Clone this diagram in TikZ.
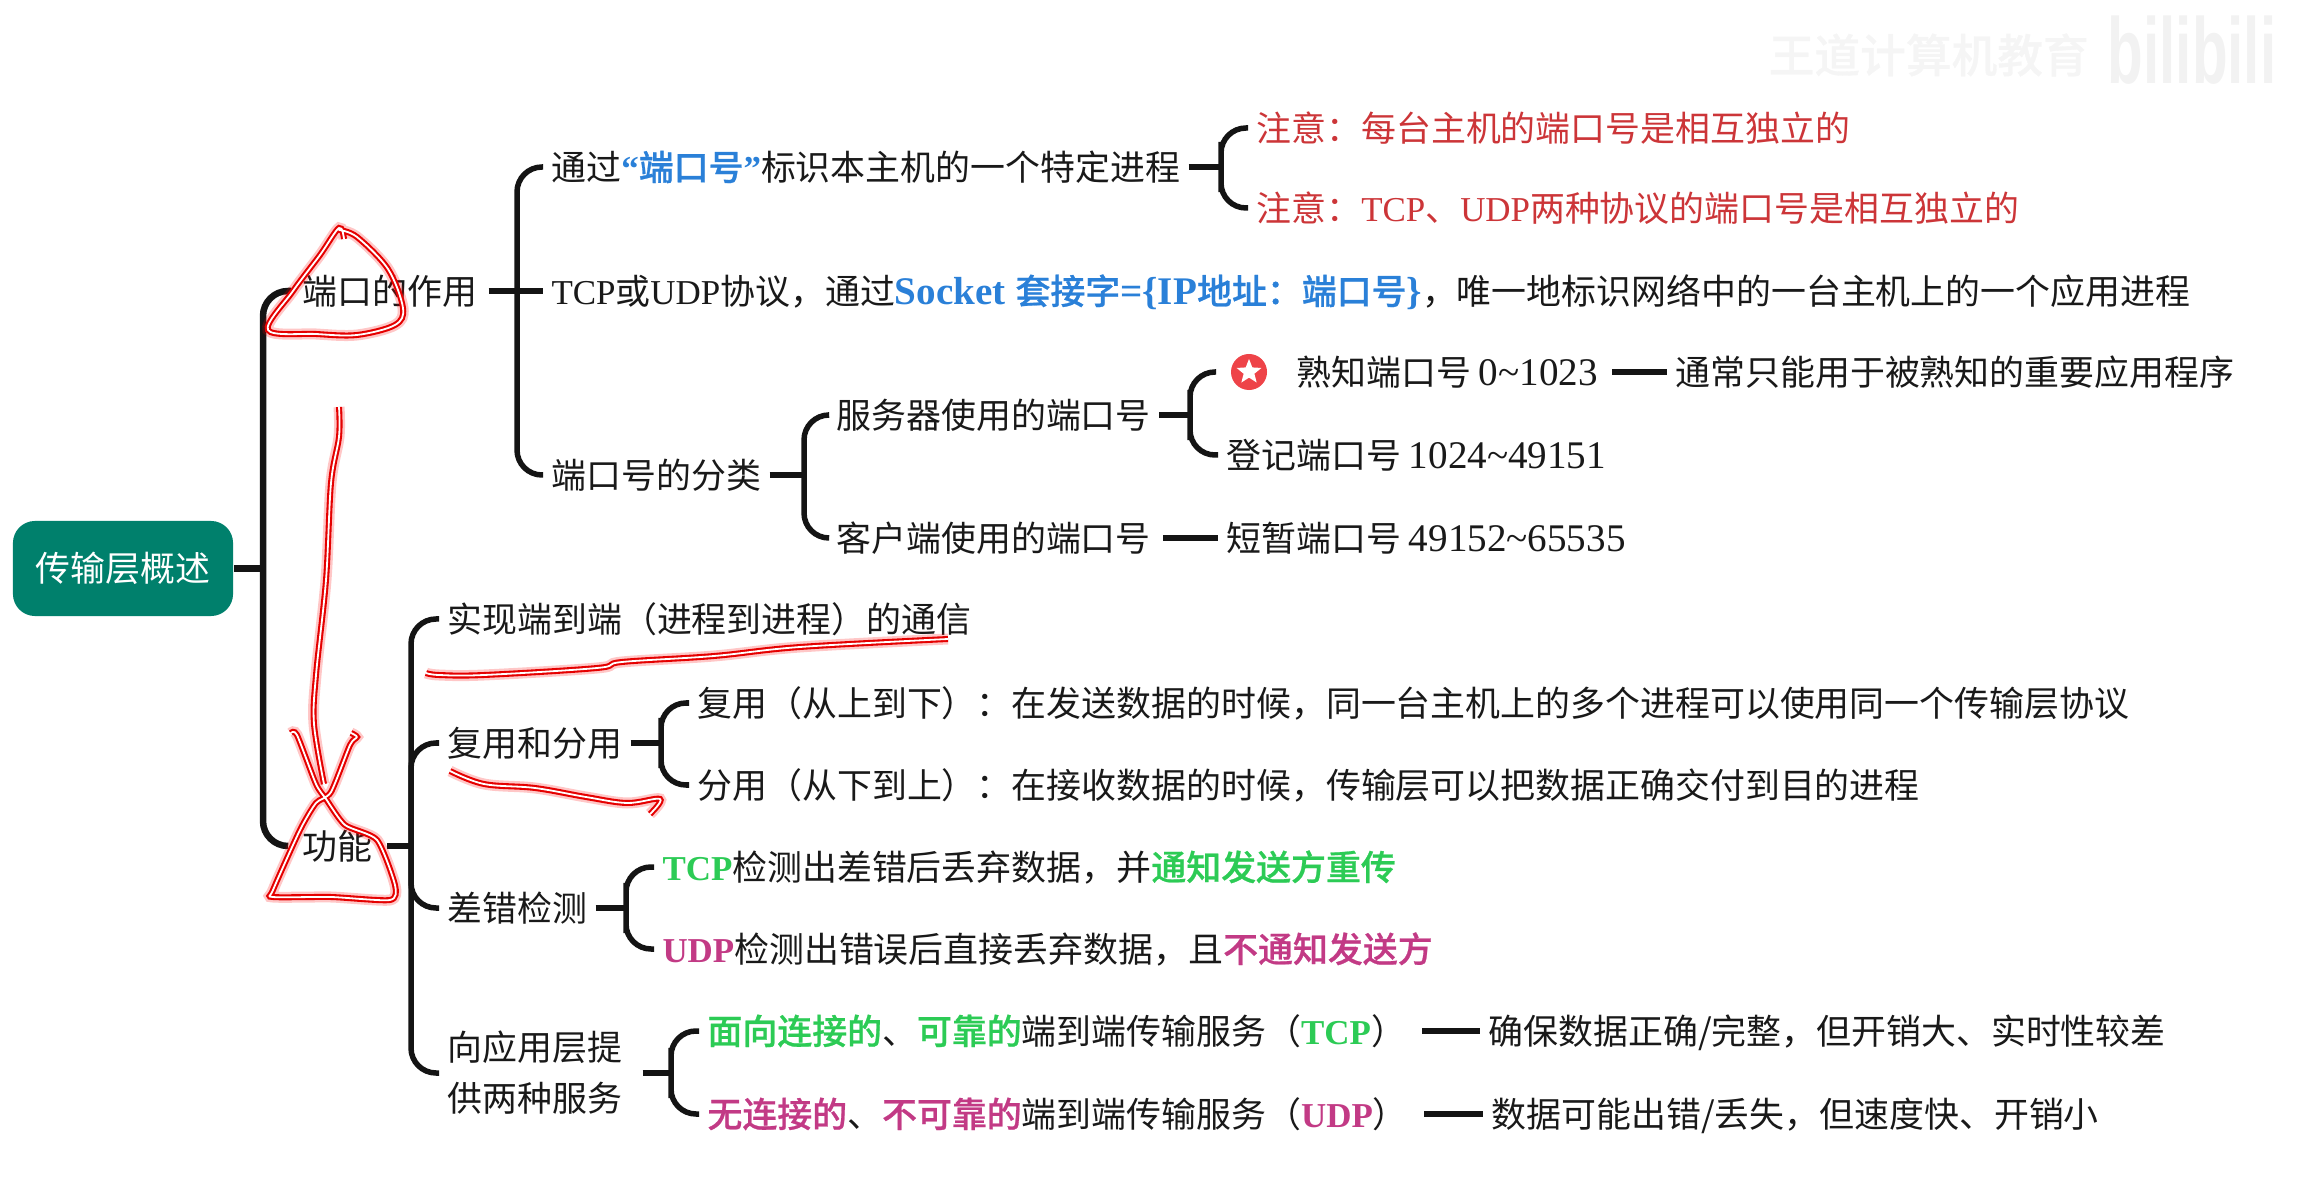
\documentclass[tikz,border=0pt]{standalone}
\usepackage{fontspec}
\setmainfont{Noto Sans CJK SC}[BoldFont={Noto Sans CJK SC Medium},BoldFeatures={FakeBold=0.7}]
\newfontfamily\latfont{Liberation Serif}
\newfontfamily\widefont{Liberation Serif}[Scale=1.12]
\newfontfamily\markfont{Liberation Sans}
\usetikzlibrary{shapes.geometric}
\definecolor{rootgreen}{HTML}{00806C}
\definecolor{notered}{HTML}{CC3538}
\definecolor{keyblue}{HTML}{2A80D8}
\definecolor{tcpgreen}{HTML}{2CCB55}
\definecolor{udppink}{HTML}{C23A85}
\definecolor{badgered}{HTML}{EE4348}
\definecolor{linkblack}{HTML}{141414}
\newcommand{\lat}[1]{{\latfont #1}}
\newcommand{\nums}[1]{{\widefont #1}}
\newcommand{\hl}[2]{\textcolor{#1}{\bfseries #2}}
\newcommand{\hllat}[2]{\textcolor{#1}{\latfont\bfseries #2}}
\newcommand{\hlwide}[2]{\textcolor{#1}{\widefont\bfseries #2}}
\tikzset{
    leaf/.style={anchor=west, inner sep=0pt, outer sep=.85mm, text height=8.7pt, text depth=1.2pt,
        font=\fontsize{9.93pt}{14.5pt}\selectfont, text=black!90},
    link/.style={draw=linkblack, line width=.55mm, rounded corners=.25cm},
    stem/.style={draw=linkblack, line width=.65mm},
    mainlink/.style={draw=linkblack, line width=.65mm, rounded corners=.25cm},
    ink/.style={preaction={draw=red, opacity=.22, line width=1.1mm},
        preaction={draw=red!90!black, line width=.6mm},
        draw=white, line width=.18mm, line cap=round, line join=round},
}
\begin{document}
\begin{tikzpicture}[x=.01cm, y=-.01cm]
\useasboundingbox (0,0) rectangle (2304,1189);
% watermark
\node[anchor=west, inner sep=0pt, text=black!4] (wmark) at (1768,55)
    {\fontsize{13pt}{13pt}\selectfont\bfseries 王道计算机教育};
\node[anchor=west, inner sep=0pt, text=black!5] (wbili) at (2107,50)
    {\scalebox{1}[1.6]{\fontsize{16.6pt}{18pt}\markfont\bfseries bilibili}};
% root
\node[fill=rootgreen, text=white, rounded corners=.22cm, minimum width=2.2cm, minimum height=.95cm,
    inner sep=0pt, font=\fontsize{9.93pt}{14pt}\selectfont] (root) at (123,568.5) {传输层概述};
\node[leaf, outer sep=1.15mm] (role) at (291,291) {端口的作用};
\node[leaf, outer sep=1.45mm] (func) at (288,846) {功能};
\coordinate (mainsp) at (263,568.5);
\draw[stem] (root.east) -- (mainsp);
\draw[mainlink] (role.west) -| (mainsp) |- (func.west);
% port branch
\node[leaf] (a1) at (543,167) {通过\hllat{keyblue}{“}\hl{keyblue}{端口号}\hllat{keyblue}{”}标识本主机的一个特定进程};
\node[leaf] (a2) at (543,291) {\lat{TCP}或\lat{UDP}协议，通过\hlwide{keyblue}{Socket }\hl{keyblue}{套接字}\hlwide{keyblue}{=\{IP}\hl{keyblue}{地址：端口号}\hlwide{keyblue}{\}}，唯一地标识网络中的一台主机上的一个应用进程};
\node[leaf] (a3) at (543,475) {端口号的分类};
\coordinate (spa) at (517,291);
\draw[stem] (role.east) -- (a2.west);
\draw[link] (a1.west) -| (spa) |- (a3.west);
% notes
\node[leaf, text=notered] (b1) at (1248,128) {注意：每台主机的端口号是相互独立的};
\node[leaf, text=notered] (b2) at (1248,208) {注意：\lat{TCP}、\lat{UDP}两种协议的端口号是相互独立的};
\coordinate (spb) at (1221,167);
\draw[stem] (a1.east) -- (spb);
\draw[link] (b1.west) -| (spb) |- (b2.west);
% port classes
\node[leaf] (c1) at (828,415) {服务器使用的端口号};
\node[leaf] (c2) at (828,538) {客户端使用的端口号};
\coordinate (spc) at (804,475);
\draw[stem] (a3.east) -- (spc);
\draw[link] (c1.west) -| (spc) |- (c2.west);
\node[circle, fill=badgered, inner sep=0pt, minimum size=.36cm, outer sep=1.5mm] (badge) at (1249,372) {};
\node[star, star points=5, star point ratio=2.3, fill=white, inner sep=0pt, minimum size=.26cm] (badgestar) at (badge) {};
\node[leaf] (d1) at (1288,372) {熟知端口号 \nums{0\textasciitilde 1023}};
\node[leaf] (d2) at (1218,455) {登记端口号 \nums{1024\textasciitilde 49151}};
\node[leaf] (d3) at (1218,538) {短暂端口号 \nums{49152\textasciitilde 65535}};
\node[leaf] (e1) at (1667,372) {通常只能用于被熟知的重要应用程序};
\coordinate (spd) at (1190,415);
\draw[stem] (c1.east) -- (spd);
\draw[link] (badge.west) -| (spd) |- (d2.west);
\draw[stem, shorten <=.4mm] (c2.east) -- (d3.west);
\draw[stem, shorten <=.6mm] (d1.east) -- (e1.west);
% function branch
\node[leaf] (f1) at (439,619) {实现端到端（进程到进程）的通信};
\node[leaf] (f2) at (439,743) {复用和分用};
\node[leaf] (f3) at (439,908) {差错检测};
\node[leaf, align=left, text height=23.2pt] (f4) at (439,1073) {向应用层提\\供两种服务};
\coordinate (spf) at (411,846);
\draw[stem] (func.east) -- (spf);
\draw[link] (f1.west) -| (spf) |- (f4.west);
\draw[link] (f2.west) -| (spf);
\draw[link] (f3.west) -| (spf);
% multiplexing
\node[leaf] (g1) at (689,703) {复用（从上到下）：在发送数据的时候，同一台主机上的多个进程可以使用同一个传输层协议};
\node[leaf] (g2) at (689,785) {分用（从下到上）：在接收数据的时候，传输层可以把数据正确交付到目的进程};
\coordinate (spg) at (661,743);
\draw[stem] (f2.east) -- (spg);
\draw[link] (g1.west) -| (spg) |- (g2.west);
% error check
\node[leaf] (h1) at (654,867) {\hllat{tcpgreen}{TCP}检测出差错后丢弃数据，并\hl{tcpgreen}{通知发送方重传}};
\node[leaf] (h2) at (654,949) {\hllat{udppink}{UDP}检测出错误后直接丢弃数据，且\hl{udppink}{不通知发送方}};
\coordinate (sph) at (626,908);
\draw[stem] (f3.east) -- (sph);
\draw[link] (h1.west) -| (sph) |- (h2.west);
% services
\node[leaf] (i1) at (699,1031) {\hl{tcpgreen}{面向连接的}、\hl{tcpgreen}{可靠的}端到端传输服务（\hllat{tcpgreen}{TCP}）};
\node[leaf] (i2) at (699,1114) {\hl{udppink}{无连接的}、\hl{udppink}{不可靠的}端到端传输服务（\hllat{udppink}{UDP}）};
\node[leaf] (j1) at (1480,1031) {确保数据正确/完整，但开销大、实时性较差};
\node[leaf] (j2) at (1483,1114) {数据可能出错/丢失，但速度快、开销小};
\coordinate (spi) at (671,1073);
\draw[stem, shorten <=1.2mm] (f4.east) -- (spi);
\draw[link] (i1.west) -| (spi) |- (i2.west);
\draw[stem, shorten <=.8mm] (i1.east) -- (j1.west);
\draw[stem, shorten <=.8mm] (i2.east) -- (j2.west);
% red pen marks
\draw[ink] plot[smooth, tension=.55] coordinates {(344,239) (339,228) (320,255) (293,291) (268,330) (316,334) (357,335) (395,325) (403,308) (388,269) (357,237) (339,230)};
\draw[ink] plot[smooth, tension=.55] coordinates {(339,407) (339,437) (331,483) (326,580) (316,675) (314,724) (324,784)};
\draw[ink] plot[smooth, tension=.4] coordinates {(291,733) (297,735) (316,784) (326,799) (345,825) (377,840) (395,885) (390,900) (331,897) (273,897) (273,890) (300,830) (316,803) (331,792) (350,745) (357,737) (351,733)};
\draw[ink] plot[smooth, tension=.6] coordinates {(426,673) (439,675) (484,675) (597,668) (622,662) (714,656) (800,647) (948,639)};
\draw[ink] plot[smooth, tension=.6] coordinates {(450,771) (484,784) (535,788) (586,797) (627,803) (660,799) (650,814)};
\end{tikzpicture}
\end{document}
